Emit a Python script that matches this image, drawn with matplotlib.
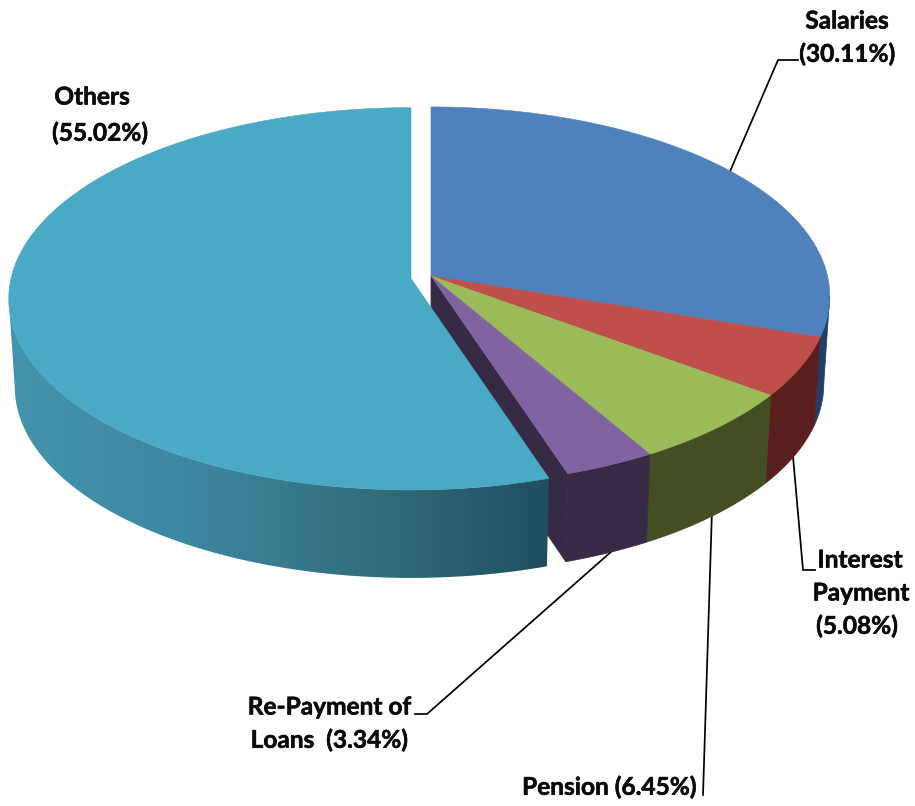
import numpy as np
import matplotlib
matplotlib.use("Agg")
import matplotlib.pyplot as plt
import matplotlib.patheffects as pe
from matplotlib.colors import LinearSegmentedColormap
from matplotlib.patches import Polygon

# ---- data ----
categories = ["Salaries", "Interest Payment", "Pension", "Re-Payment of Loans", "Others"]
shares = [30.11, 5.08, 6.45, 3.34, 55.02]
top_colors = ["#4F81BD", "#BE4F4B", "#9BBB59", "#8064A2", "#4AA9C4"]
side_colors = ["#1F3F68", "#5A2020", "#434F22", "#372A45", None]

labels = [
    ("Salaries", 847, 21, "center"), ("(30.11%)", 847, 54, "center"),
    ("Others", 92, 97, "center"), ("(55.02%)", 100, 133, "center"),
    ("Interest", 860, 560, "center"), ("Payment", 861, 593, "center"), ("(5.08%)", 857, 626, "center"),
    ("Re-Payment of", 411, 707, "right"), ("Loans  (3.34%)", 329, 740, "center"),
    ("Pension (6.45%)", 609, 787, "center"),
]
leaders = [
    [(725, 183), (778, 60), (798, 60)],
    [(792, 445), (803, 570), (815, 570)],
    [(712, 510), (703, 795)],
    [(612, 551), (427, 714), (415, 714)],
]

# ---- geometry of the projected disc ----
FOCUS = 0.106
DEPTH = 88.0
BOTTOM_SCALE = 0.985


def project(theta, cx, cy, rx, ry, bottom=False):
    u, v = np.sin(theta), np.cos(theta)
    w = 1 + FOCUS * v
    sx = BOTTOM_SCALE if bottom else 1.0
    return np.column_stack([cx + sx * rx * u / w,
                            cy - ry * v / w + (DEPTH if bottom else 0.0)])


fig = plt.figure(figsize=(9.15, 8.06), dpi=100)
ax = fig.add_axes([0, 0, 1, 1])
ax.set_xlim(0, 915)
ax.set_ylim(806, 0)
ax.axis("off")

edges = np.radians(np.concatenate([[0], np.cumsum(shares)]) * 3.6)
CX, CY, RX, RY = 431.0, 276.0, 396.5, 187.0
OCX, OCY, ORX, ORY = 411.0, 278.5, 400.0, 189.0
# angle of the disc's right-hand silhouette; the wall is hidden before it
SILHOUETTE = np.arccos(-FOCUS)


def arc(i):
    return np.linspace(edges[i], edges[i + 1], 160)


# outer walls of the four right-hand slices
for i in range(4):
    t = np.linspace(max(edges[i], SILHOUETTE), edges[i + 1], 120)
    a = project(t, CX, CY, RX, RY)
    b = project(t, CX, CY, RX, RY, bottom=True)
    w = np.vstack([a, b[::-1]])
    ax.fill(w[:, 0], w[:, 1], color=side_colors[i], lw=0.5, zorder=1)

# inner cut wall of the Re-Payment slice, exposed by the exploded slice
end = np.array([edges[4]])
top_pt = project(end, CX, CY, RX, RY)[0]
bot_pt = project(end, CX, CY, RX, RY, bottom=True)[0]
ax.fill([CX, top_pt[0], bot_pt[0], CX], [CY, top_pt[1], bot_pt[1], CY + DEPTH],
        color=side_colors[3], lw=0.5, zorder=1.5)

# top faces of the four right-hand slices
for i in range(4):
    pts = np.vstack([[CX, CY], project(arc(i), CX, CY, RX, RY)])
    ax.fill(pts[:, 0], pts[:, 1], color=top_colors[i], lw=0.4, zorder=2)

# exploded slice: shaded wall then top face
teal = LinearSegmentedColormap.from_list(
    "teal", [(0.0, "#4394AE"), (0.35, "#3C86A0"), (0.65, "#33707F"), (1.0, "#1F4F5E")])
t = np.linspace(edges[4], 2 * np.pi - SILHOUETTE, 300)
top_rim = project(t, OCX, OCY, ORX, ORY)
bot_rim = project(t, OCX, OCY, ORX, ORY, bottom=True)
wall = np.vstack([top_rim, bot_rim[::-1]])
x0, x1 = wall[:, 0].min(), wall[:, 0].max()
y0, y1 = wall[:, 1].min(), wall[:, 1].max()
im = ax.imshow(np.linspace(0, 1, 512)[None, :], extent=(x0, x1, y1, y0), cmap=teal,
               aspect="auto", zorder=3, interpolation="bilinear")
im.set_clip_path(Polygon(wall, transform=ax.transData))
ax.set_xlim(0, 915)
ax.set_ylim(806, 0)

pts = np.vstack([[OCX, OCY], project(np.linspace(edges[4], edges[5], 500), OCX, OCY, ORX, ORY)])
ax.fill(pts[:, 0], pts[:, 1], color=top_colors[4], lw=0.4, zorder=4)

# leader lines and labels
for line in leaders:
    xs, ys = zip(*line)
    ax.plot(xs, ys, color="black", lw=1.25, zorder=0.5, solid_joinstyle="miter")

for text, x, y, ha in labels:
    ax.text(x, y, text, ha=ha, va="center", family="Lato", fontweight="bold",
            fontsize=17.6, color="#0A0A0A", zorder=6,
            path_effects=[pe.withStroke(linewidth=0.4, foreground="#0A0A0A")])

fig.savefig("out.png", dpi=100, facecolor="white")
